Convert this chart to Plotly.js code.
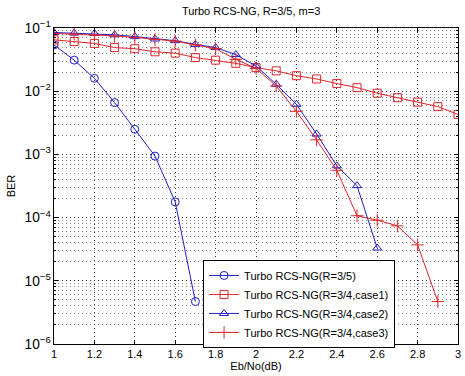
<!DOCTYPE html>
<html>
<head>
<meta charset="utf-8">
<script src="https://cdn.plot.ly/plotly-3.0.1.min.js"></script>
<style>body{margin:0;padding:0;background:#fff}#chart{width:465px;height:376px}</style>
</head>
<body>
<div id="chart"></div>
<script>
// Data
const ebnoA = [1.0, 1.1, 1.2, 1.3, 1.4, 1.5, 1.6, 1.7];
const berA  = [0.054, 0.031, 0.016, 0.0066, 0.0025, 0.00094, 1.77e-4, 4.7e-6];

const ebnoB = [1.0, 1.1, 1.2, 1.3, 1.4, 1.5, 1.6, 1.7, 1.8, 1.9, 2.0, 2.1, 2.2, 2.3, 2.4, 2.5, 2.6, 2.7, 2.8, 2.9, 3.0];
const berB  = [0.065, 0.061, 0.057, 0.049, 0.047, 0.042, 0.040, 0.034, 0.031, 0.0276, 0.0236, 0.021, 0.0176, 0.0156, 0.0132, 0.0114, 0.0093, 0.0079, 0.0067, 0.0057, 0.0043];

const ebnoC = [1.0, 1.1, 1.2, 1.3, 1.4, 1.5, 1.6, 1.7, 1.8, 1.9, 2.0, 2.1, 2.2, 2.3, 2.4, 2.5, 2.6];
const berC  = [0.085, 0.083, 0.082, 0.078, 0.073, 0.067, 0.063, 0.055, 0.049, 0.038, 0.025, 0.0129, 0.0062, 0.0021, 6.6e-4, 3.2e-4, 3.3e-5];

const ebnoD = [1.0, 1.1, 1.2, 1.3, 1.4, 1.5, 1.6, 1.7, 1.8, 1.9, 2.0, 2.1, 2.2, 2.3, 2.4, 2.5, 2.6, 2.7, 2.8, 2.9];
const berD  = [0.082, 0.080, 0.078, 0.075, 0.071, 0.066, 0.062, 0.054, 0.047, 0.032, 0.023, 0.0121, 0.0048, 0.0017, 5.6e-4, 1.07e-4, 9.1e-5, 7.4e-5, 3.7e-5, 4.7e-6];

const names = [
  'Turbo RCS-NG(R=3/5)',
  'Turbo RCS-NG(R=3/4,case1)',
  'Turbo RCS-NG(R=3/4,case2)',
  'Turbo RCS-NG(R=3/4,case3)'
];
const xTicks = [1, 1.2, 1.4, 1.6, 1.8, 2, 2.2, 2.4, 2.6, 2.8, 3];

const BLUE = '#1f1fc8';
const RED = '#e0262a';

function tr(x, y, name, color, symbol, size) {
  return {
    x: x, y: y, name: name, type: 'scatter', mode: 'lines+markers',
    line: {color: color, width: 1},
    marker: {symbol: symbol, size: size, color: color, line: {color: color, width: 1}}
  };
}

const data = [
  tr(ebnoA, berA, names[0], BLUE, 'circle-open', 8),
  tr(ebnoB, berB, names[1], RED, 'square-open', 8),
  tr(ebnoC, berC, names[2], BLUE, 'triangle-up-open', 8),
  tr(ebnoD, berD, names[3], RED, 'cross-thin-open', 9)
];

const font = {family: 'Liberation Sans, Arial, sans-serif', size: 11, color: '#000'};

const layout = {
  width: 465, height: 376,
  margin: {l: 54, r: 7, t: 28, b: 32},
  paper_bgcolor: '#fff', plot_bgcolor: '#fff',
  font: font,
  showlegend: true,
  title: {text: 'Turbo RCS-NG, R=3/5, m=3', font: {family: font.family, size: 11, color: '#000'}, x: 0.54, xanchor: 'center', y: 0.97, yanchor: 'middle'},
  xaxis: {
    range: [1, 3], tickvals: xTicks, ticktext: xTicks.map(String),
    ticks: 'inside', ticklen: 4, tickcolor: '#000',
    showline: true, linecolor: '#000', linewidth: 1, mirror: 'ticks',
    showgrid: true, gridcolor: '#333', griddash: '1px,3px', gridwidth: 1,
    zeroline: false,
    title: {text: 'Eb/No(dB)', font: {family: font.family, size: 11}, standoff: 2},
    tickfont: {family: font.family, size: 11}
  },
  yaxis: {
    type: 'log', range: [-6, -1], dtick: 1, exponentformat: 'power',
    ticks: 'inside', ticklen: 4, tickcolor: '#000',
    showline: true, linecolor: '#000', linewidth: 1, mirror: 'ticks',
    showgrid: true, gridcolor: '#333', griddash: '1px,3px', gridwidth: 1,
    minor: {ticks: 'inside', ticklen: 2, tickcolor: '#000', showgrid: true, gridcolor: '#888', griddash: '1px,3px', gridwidth: 1},
    zeroline: false,
    title: {text: 'BER', font: {family: font.family, size: 11}, standoff: 6},
    tickfont: {family: font.family, size: 11}
  },
  legend: {
    x: 0.369, y: 0.266, xanchor: 'left', yanchor: 'top',
    bgcolor: '#fff', bordercolor: '#000', borderwidth: 1,
    font: {family: font.family, size: 11, color: '#000'},
    tracegroupgap: 0, itemwidth: 30
  }
};

Plotly.newPlot('chart', data, layout, {staticPlot: true, displayModeBar: false});
</script>
</body>
</html>
